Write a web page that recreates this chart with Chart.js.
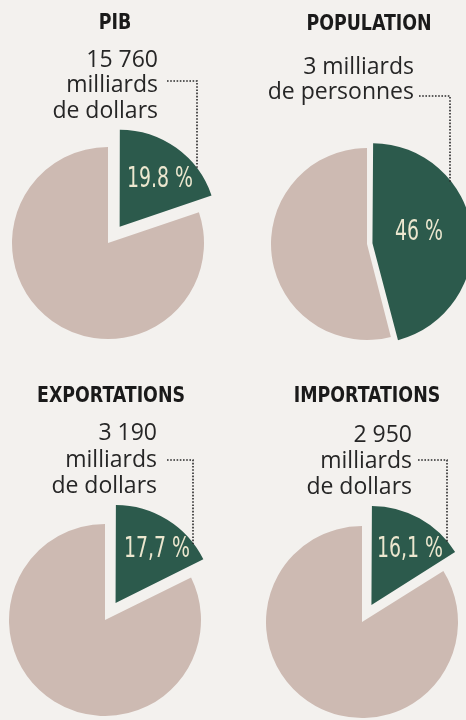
<!DOCTYPE html>
<html>
<head>
<meta charset="utf-8">
<script src="https://cdn.jsdelivr.net/npm/chart.js@4"></script>
<style>
  body { margin: 0; background: #f3f1ee; }
  #wrap { position: relative; width: 466px; height: 720px; overflow: hidden; }
  .cell { position: absolute; width: 233px; height: 360px; }
</style>
</head>
<body>
<div id="wrap">
  <div class="cell" style="left:0;top:0"><canvas id="pie0" width="233" height="360"></canvas></div>
  <div class="cell" style="left:233px;top:0"><canvas id="pie1" width="233" height="360"></canvas></div>
  <div class="cell" style="left:0;top:360px"><canvas id="pie2" width="233" height="360"></canvas></div>
  <div class="cell" style="left:233px;top:360px"><canvas id="pie3" width="233" height="360"></canvas></div>
</div>
<script>
// donnees
const titles = ['PIB', 'POPULATION', 'EXPORTATIONS', 'IMPORTATIONS'];
const amountLines = [
  ['15 760', 'milliards', 'de dollars'],
  ['3 milliards', 'de personnes'],
  ['3 190', 'milliards', 'de dollars'],
  ['2 950', 'milliards', 'de dollars']
];
const shares = [19.8, 46, 17.7, 16.1];
const rest = [80.2, 54, 82.3, 83.9];
const shareLabels = ['19.8 %', '46 %', '17,7 %', '16,1 %'];

// mise en page (coordonnees dans chaque case 233x360)
const layout = [
  { cx: 108, cy: 243, offset: 80, titleX: 115, titleY: 29, textRight: 158, lines: [67, 92, 118], leadFrom: 167, leadY: 81, leadX: 197, pct: [52, -66] },
  { cx: 134, cy: 244, offset: 22, titleX: 136, titleY: 30, textRight: 181, lines: [74, 99], leadFrom: 186, leadY: 96, leadX: 217, pct: [52, -14] },
  { cx: 105, cy: 260, offset: 80, titleX: 111, titleY: 42, textRight: 157, lines: [80, 107, 133], leadFrom: 167, leadY: 100, leadX: 193, pct: [52, -73] },
  { cx: 129, cy: 262, offset: 78, titleX: 134, titleY: 42, textRight: 179, lines: [82, 108, 134], leadFrom: 185, leadY: 100, leadX: 214, pct: [48, -75] }
];

const GREEN = '#2c5a4c';
const BEIGE = '#cdbab2';
const RADIUS = 96;

// police etroite si disponible, sinon Roboto
function hasFont(name, weight) {
  const c = document.createElement('canvas').getContext('2d');
  c.font = weight + ' 40px monospace';
  const a = c.measureText('EXPORTATIONS 17,7').width;
  c.font = weight + ' 40px "' + name + '", monospace';
  return c.measureText('EXPORTATIONS 17,7').width !== a;
}
let narrow = null;
for (const f of ['Liberation Sans Narrow', 'Arial Narrow', 'DejaVu Sans Condensed']) {
  if (hasFont(f, 'bold')) { narrow = f; break; }
}
const narrowFace = narrow ? '"' + narrow + '", Roboto' : 'Roboto';
const TITLE_FONT = 'bold 22px ' + narrowFace;
const PCT_FONT = '28px ' + narrowFace;
const TEXT_FONT = '23px "Open Sans"';

// compression horizontale pour retrouver la chasse etroite du journal
function widthOf(font, txt) {
  const c = document.createElement('canvas').getContext('2d');
  c.font = font;
  return c.measureText(txt).width;
}
const titleSqueeze = Math.min(1, 148 / widthOf(TITLE_FONT, 'EXPORTATIONS'));
const pctSqueeze = Math.min(1, 66 / widthOf(PCT_FONT, '19.8 %'));

function drawText(ctx, txt, x, y, font, align, sx) {
  ctx.save();
  ctx.font = font;
  ctx.textAlign = align;
  ctx.textBaseline = 'alphabetic';
  ctx.translate(x, y);
  ctx.scale(sx, 1);
  ctx.fillText(txt, 0, 0);
  ctx.restore();
}

const pieNotes = {
  id: 'pieNotes',
  afterDatasetsDraw(chart, args, opts) {
    const i = opts.index;
    const L = layout[i];
    const ctx = chart.ctx;
    const arc = chart.getDatasetMeta(0).data[0];
    const p = arc.getProps(['x', 'y', 'startAngle', 'endAngle', 'outerRadius'], true);

    // titre
    ctx.fillStyle = '#1a1a1a';
    drawText(ctx, titles[i], L.titleX, L.titleY, TITLE_FONT, 'center', titleSqueeze);

    // montant
    ctx.fillStyle = '#262626';
    amountLines[i].forEach((t, k) => {
      drawText(ctx, t, L.textRight, L.lines[k], TEXT_FONT, 'right', 1);
    });

    // trait pointille vers la part verte
    const off = (arc.options.offset || 0) / 4;
    const circ = p.endAngle - p.startAngle;
    const fix = 1 - Math.sin(Math.min(Math.PI, circ));
    const mid = (p.startAngle + p.endAngle) / 2;
    const gx = p.x + Math.cos(mid) * off * (1 + fix);
    const gy = p.y + Math.sin(mid) * off * (1 + fix);
    const dx = L.leadX - gx;
    const endY = gy - Math.sqrt(Math.max(p.outerRadius * p.outerRadius - dx * dx, 0)) + 1;
    ctx.save();
    ctx.strokeStyle = '#2a2a2a';
    ctx.lineWidth = 1.6;
    ctx.setLineDash([1.6, 1.6]);
    ctx.beginPath();
    ctx.moveTo(L.leadFrom, L.leadY);
    ctx.lineTo(L.leadX, L.leadY);
    ctx.lineTo(L.leadX, endY);
    ctx.stroke();
    ctx.restore();

    // pourcentage
    ctx.fillStyle = '#ece7cf';
    drawText(ctx, shareLabels[i], p.x + L.pct[0], p.y + L.pct[1] + 10, PCT_FONT, 'center', pctSqueeze);
  }
};

titles.forEach((t, i) => {
  const L = layout[i];
  const half = 60;
  new Chart(document.getElementById('pie' + i), {
    type: 'pie',
    data: {
      labels: [t, 'reste du monde'],
      datasets: [{
        data: [shares[i], rest[i]],
        backgroundColor: [GREEN, BEIGE],
        borderWidth: 0,
        offset: [L.offset, 0],
        hoverOffset: 0
      }]
    },
    options: {
      responsive: false,
      animation: false,
      events: [],
      radius: RADIUS,
      layout: {
        padding: { left: L.cx - half, right: 233 - L.cx - half, top: L.cy - half, bottom: 360 - L.cy - half }
      },
      plugins: {
        legend: { display: false },
        tooltip: { enabled: false },
        pieNotes: { index: i }
      }
    },
    plugins: [pieNotes]
  });
});
</script>
</body>
</html>
